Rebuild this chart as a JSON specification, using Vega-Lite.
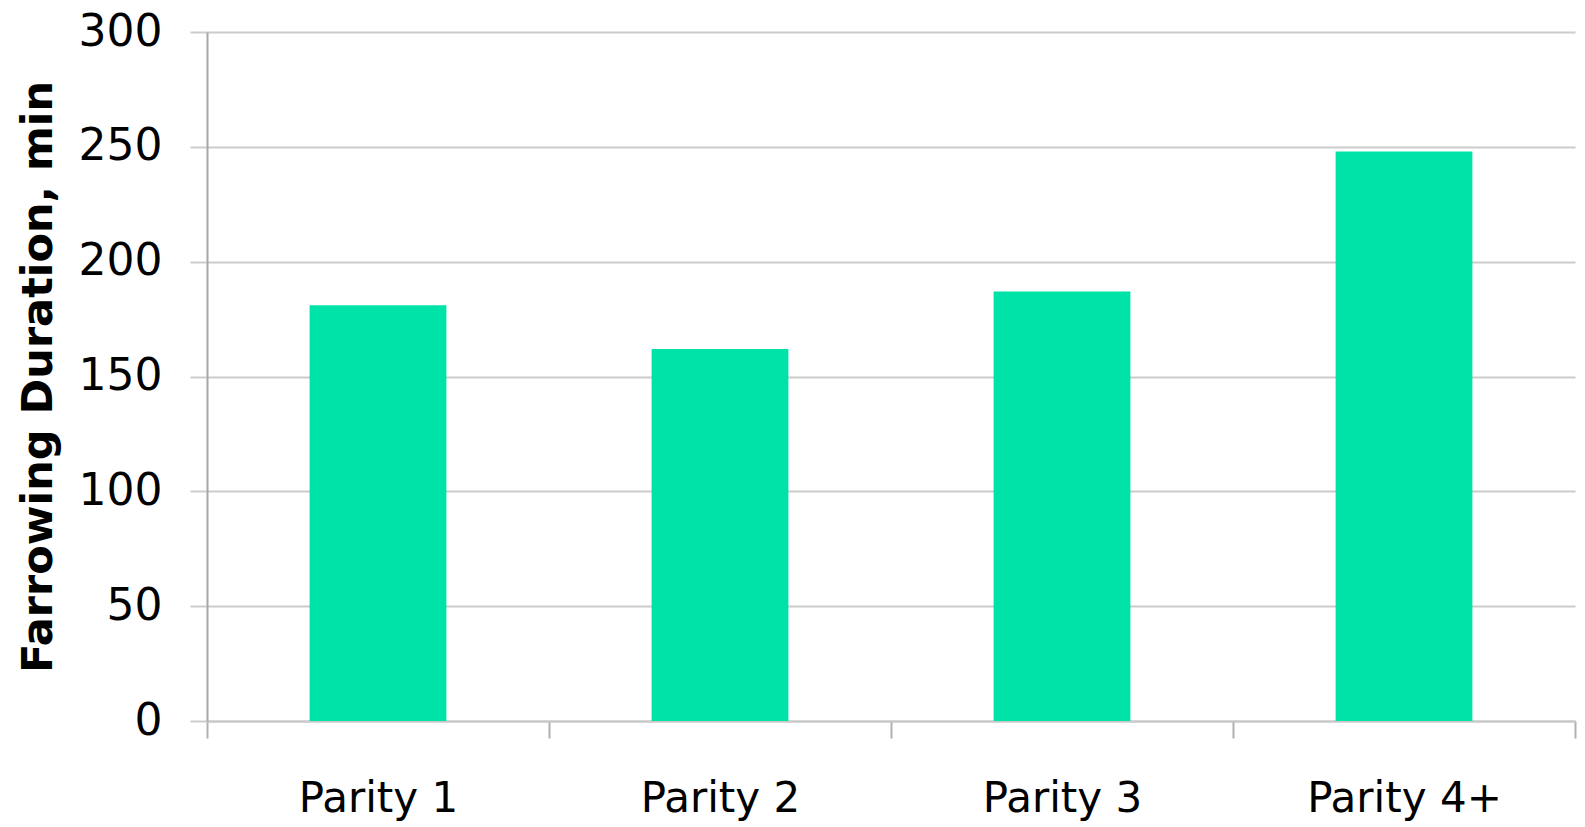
{
  "$schema": "https://vega.github.io/schema/vega-lite/v6.json",
  "width": 1368,
  "height": 689,
  "autosize": {"type": "none"},
  "padding": {"left": 207, "top": 32, "right": 10, "bottom": 106},
  "background": "white",
  "data": {
    "values": [
      {"parity": "Parity 1", "duration": 181},
      {"parity": "Parity 2", "duration": 162},
      {"parity": "Parity 3", "duration": 187},
      {"parity": "Parity 4+", "duration": 248}
    ]
  },
  "mark": {"type": "bar", "color": "#00E3A8", "width": {"band": 0.4}},
  "encoding": {
    "x": {
      "field": "parity",
      "type": "nominal",
      "sort": null,
      "title": null,
      "scale": {"paddingInner": 0, "paddingOuter": 0},
      "axis": {
        "labelAngle": 0,
        "labelFont": "DejaVu Sans",
        "labelFontSize": 42,
        "labelColor": "#000000",
        "labelPadding": 40,
        "labelLimit": 0,
        "tickBand": "extent",
        "tickSize": 17,
        "tickColor": "#b0b0b0",
        "tickWidth": 2,
        "domainColor": "#c8c8c8",
        "domainWidth": 2,
        "grid": false
      }
    },
    "y": {
      "field": "duration",
      "type": "quantitative",
      "title": "Farrowing Duration, min",
      "scale": {"domain": [0, 300], "nice": false},
      "axis": {
        "values": [0, 50, 100, 150, 200, 250, 300],
        "labelFont": "DejaVu Sans",
        "labelFontSize": 44,
        "labelColor": "#000000",
        "labelPadding": 28,
        "tickSize": 17,
        "tickColor": "#cccccc",
        "tickWidth": 2,
        "domainColor": "#a8a8a8",
        "domainWidth": 2,
        "gridColor": "#cccccc",
        "gridWidth": 2,
        "titleFont": "DejaVu Sans",
        "titleFontSize": 43,
        "titleFontWeight": "bold",
        "titleColor": "#000000",
        "titlePadding": 18
      }
    }
  },
  "config": {
    "view": {"stroke": null}
  }
}
